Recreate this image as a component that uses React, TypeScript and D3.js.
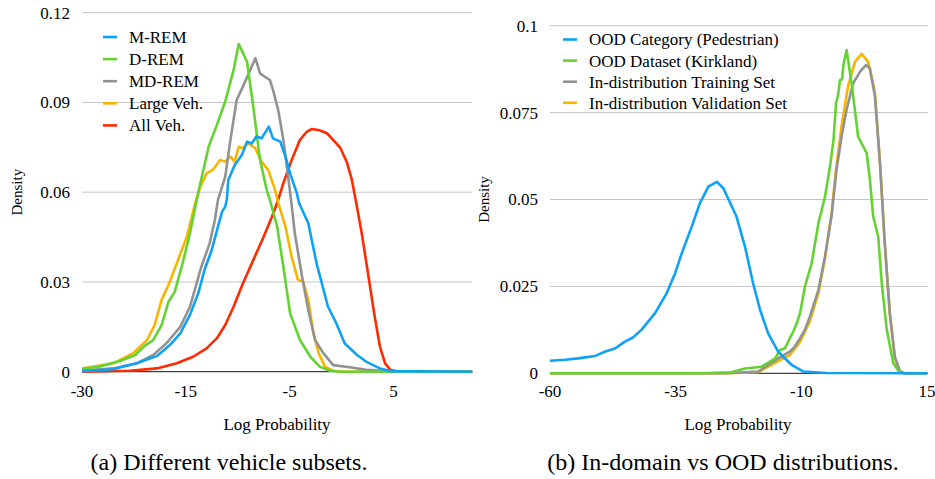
import React from "react";
import * as d3 from "d3";

// ---- panel (a): different vehicle subsets ----
const leftYTicks = [0, 0.03, 0.06, 0.09, 0.12];
const leftYLabels = ["0", "0.03", "0.06", "0.09", "0.12"];
const leftXTicks = [-30, -15, -5, 5];
const leftNames = ["M-REM", "D-REM", "MD-REM", "Large Veh.", "All Veh."];
const leftColors = ["#0DA2F5", "#63D332", "#929292", "#F8B500", "#FF2A00"];

const mRem: [number, number][] = [
  [-30, 0.0002], [-25.5, 0.0008], [-24, 0.0017], [-22.1, 0.0028], [-20.6, 0.0041], [-19.2, 0.0052],
  [-17.3, 0.0089], [-15.8, 0.0128], [-14.6, 0.019], [-13.8, 0.0262], [-13.2, 0.034], [-12.5, 0.0407],
  [-11.9, 0.0485], [-11.5, 0.0535], [-11.2, 0.0552], [-11.05, 0.0574], [-10.9, 0.0641], [-10.3, 0.069],
  [-9.6, 0.0724], [-9.1, 0.0769], [-8.65, 0.0763], [-8.2, 0.0786], [-7.7, 0.078], [-7.0, 0.0819],
  [-6.6, 0.078], [-5.9, 0.0769], [-5.4, 0.0719], [-4.95, 0.0663], [-4.3, 0.0596], [-4.1, 0.0565],
  [-3.2, 0.0496], [-2.4, 0.0362], [-1.3, 0.0217], [-0.5, 0.0162], [0.3, 0.0095], [1.5, 0.0056],
  [2.4, 0.0033], [3.7, 0.0011], [4.7, 0.0002], [12.6, 0],
];
const dRem: [number, number][] = [
  [-30, 0.001], [-27.4, 0.0017], [-24.5, 0.0036], [-22.3, 0.0056], [-20.9, 0.0087], [-19.7, 0.0106],
  [-18.5, 0.0156], [-17.5, 0.0234], [-16.6, 0.0267], [-15.4, 0.0368], [-14.6, 0.0463], [-13.95, 0.0574],
  [-13.6, 0.063], [-12.8, 0.0752], [-12.0, 0.0825], [-11.2, 0.0903], [-10.4, 0.1008], [-9.9, 0.1095],
  [-9.1, 0.1036], [-8.5, 0.0886], [-7.85, 0.0708], [-7.2, 0.0607], [-6.9, 0.0574], [-6.2, 0.0485],
  [-5.6, 0.0351], [-4.95, 0.0195], [-4.0, 0.0106], [-3.0, 0.005], [-2.1, 0.0017], [-1.1, 0.0003],
  [0, 0], [12.6, 0],
];
const mdRem: [number, number][] = [
  [-30, 0.0003], [-25.5, 0.0011], [-22.1, 0.0028], [-19.7, 0.0056], [-17.8, 0.0095], [-15.8, 0.015],
  [-14.6, 0.0217], [-13.5, 0.0351], [-12.7, 0.0429], [-12.2, 0.0507], [-11.9, 0.0574], [-11.2, 0.0652],
  [-10.7, 0.0775], [-10.1, 0.0908], [-9.5, 0.0953], [-8.8, 0.1008], [-8.3, 0.1048], [-7.85, 0.0997],
  [-7.4, 0.0986], [-6.9, 0.0975], [-6.6, 0.0942], [-6.1, 0.0875], [-5.6, 0.0775], [-5.1, 0.0641],
  [-4.8, 0.0557], [-4.5, 0.0463], [-3.8, 0.0318], [-3.2, 0.0206], [-2.55, 0.0106], [-1.75, 0.0062],
  [-0.8, 0.0022], [0.8, 0.0015], [2.4, 0.0006], [4.4, 0.0002], [5.5, 0], [12.6, 0],
];
const largeVeh: [number, number][] = [
  [-30, 0.0011], [-25.5, 0.0028], [-22.6, 0.0062], [-20.6, 0.0106], [-19.5, 0.0156], [-18.5, 0.024],
  [-17.5, 0.029], [-16.3, 0.0362], [-14.9, 0.0451], [-14.1, 0.0563], [-13.6, 0.0618], [-13.0, 0.0663],
  [-12.35, 0.0676], [-11.7, 0.0708], [-11.2, 0.0702], [-10.7, 0.0719], [-10.3, 0.0702], [-9.9, 0.0752],
  [-9.5, 0.0747], [-9.0, 0.0763], [-8.3, 0.0747], [-7.7, 0.0702], [-7.05, 0.0674], [-6.4, 0.0607],
  [-6.1, 0.0565], [-5.4, 0.0485], [-4.8, 0.0384], [-4.2, 0.0307], [-3.7, 0.0301], [-3.2, 0.024],
  [-2.7, 0.0128], [-2.2, 0.0062], [-1.6, 0.0017], [-0.8, 0.0003], [0, 0], [12.6, 0],
];
const allVeh: [number, number][] = [
  [-30, 0], [-23.1, 0.0003], [-19.2, 0.0011], [-16.3, 0.0028], [-14.3, 0.005], [-13.0, 0.0078],
  [-12.0, 0.0112], [-11.2, 0.0156], [-10.4, 0.0217], [-9.5, 0.0295], [-8.5, 0.0373], [-7.5, 0.0451],
  [-6.7, 0.0518], [-6.1, 0.0574], [-5.6, 0.063], [-4.8, 0.0708], [-4.0, 0.0775], [-3.35, 0.0802],
  [-2.9, 0.0811], [-2.2, 0.0808], [-1.4, 0.0797], [-0.8, 0.0775], [-0.1, 0.0747], [0.5, 0.0702],
  [1.0, 0.0641], [1.4, 0.0568], [1.95, 0.0463], [2.6, 0.0318], [3.2, 0.0184], [3.7, 0.0084],
  [4.2, 0.0028], [4.7, 0.0006], [5.6, 0], [12.6, 0],
];

// ---- panel (b): in-domain vs OOD ----
const rightYTicks = [0, 0.025, 0.05, 0.075, 0.1];
const rightYLabels = ["0", "0.025", "0.05", "0.075", "0.1"];
const rightXTicks = [-60, -35, -10, 15];
const rightNames = [
  "OOD Category (Pedestrian)",
  "OOD Dataset (Kirkland)",
  "In-distribution Training Set",
  "In-distribution Validation Set",
];
const rightColors = ["#0DA2F5", "#63D332", "#929292", "#F8B500"];

const pedestrian: [number, number][] = [
  [-60, 0.0036], [-57, 0.0039], [-54.4, 0.0043], [-51, 0.005], [-49.1, 0.0062], [-47, 0.0072],
  [-45.1, 0.0091], [-43.5, 0.0103], [-41.8, 0.0125], [-39.1, 0.0173], [-36.8, 0.023], [-35.1, 0.0288],
  [-33.8, 0.0345], [-31.8, 0.0422], [-30.2, 0.0489], [-28.5, 0.0537], [-26.8, 0.0551], [-25.5, 0.0532],
  [-22.9, 0.0451], [-21.2, 0.0364], [-19.6, 0.0259], [-18.2, 0.0182], [-16.6, 0.0115], [-14.6, 0.0062],
  [-11.9, 0.0024], [-9.6, 0.0005], [-5, 0.0001], [15, 0],
];
const kirkland: [number, number][] = [
  [-60, 0], [-30, 0], [-24, 0.0003], [-21.2, 0.0014], [-17.9, 0.0019], [-15.2, 0.0043],
  [-14.25, 0.0067], [-13.25, 0.0072], [-12.3, 0.0101], [-11.6, 0.012], [-10.9, 0.0144], [-10.25, 0.0173],
  [-9.3, 0.0249], [-7.95, 0.0316], [-6.6, 0.0432], [-5.3, 0.0508], [-4.3, 0.0594], [-3.6, 0.0671],
  [-3.1, 0.0777], [-2.7, 0.08], [-2.3, 0.0844], [-1.9, 0.0845], [-1.6, 0.089], [-1.0, 0.093],
  [0.0, 0.0834], [1.3, 0.0681], [3.0, 0.0633], [3.65, 0.0556], [4.3, 0.0451], [5.3, 0.0393],
  [6.0, 0.0259], [7.0, 0.0125], [8.3, 0.0029], [9.3, 0.0007], [10.5, 0], [15, 0],
];
const training: [number, number][] = [
  [-60, 0], [-25, 0], [-18.6, 0.0005], [-14.6, 0.0043], [-12.3, 0.0062], [-11.3, 0.0077],
  [-10.25, 0.0101], [-9.3, 0.0125], [-8.3, 0.0163], [-6.6, 0.024], [-5.3, 0.0336], [-4.0, 0.0451],
  [-3.0, 0.0585], [-2.0, 0.0681], [-1.0, 0.0758], [0.3, 0.0834], [1.7, 0.0868], [2.9, 0.0887],
  [3.65, 0.0877], [4.65, 0.0796], [5.65, 0.0604], [6.6, 0.0374], [7.6, 0.0173], [8.6, 0.0048],
  [9.6, 0.0007], [10.5, 0], [15, 0],
];
const validation: [number, number][] = [
  [-60, 0], [-25, 0], [-18.6, 0.0003], [-14.6, 0.0035], [-12.3, 0.0052], [-10.25, 0.009],
  [-8.3, 0.015], [-6.6, 0.023], [-5.3, 0.033], [-4.0, 0.046], [-3.0, 0.06], [-2.0, 0.071],
  [-1.0, 0.08], [-0.66, 0.0828], [0.67, 0.0896], [2.0, 0.0919], [3.3, 0.0896], [4.65, 0.0806],
  [5.65, 0.0604], [6.6, 0.0374], [7.6, 0.0173], [8.6, 0.0045], [9.4, 0.0007], [10.5, 0], [15, 0],
];

const leftSeries = [mRem, dRem, mdRem, largeVeh, allVeh];
const rightSeries = [pedestrian, kirkland, training, validation];

const FONT = "Liberation Serif, DejaVu Serif, serif";

type PanelProps = {
  x: d3.ScaleLinear<number, number>;
  y: d3.ScaleLinear<number, number>;
  right: number;
  xTicks: number[];
  yTicks: number[];
  yLabels: string[];
  series: [number, number][][];
  names: string[];
  colors: string[];
  legendX: number;
  legendY: number;
  legendStep: number;
  densityX: number;
  titleX: number;
  caption: string;
  captionX: number;
};

const Panel = (p: PanelProps) => {
  const x0 = p.x.range()[0];
  const line = d3
    .line<[number, number]>()
    .x((d) => p.x(d[0]))
    .y((d) => p.y(d[1]))
    .curve(d3.curveLinear);
  const yMid = (p.y(0) + p.y(p.yTicks[p.yTicks.length - 1])) / 2;

  return (
    <g style={{ fontFamily: FONT }}>
      {/* gridlines */}
      {p.yTicks.slice(1).map((t) => (
        <line key={t} x1={x0} x2={p.right} y1={p.y(t)} y2={p.y(t)} stroke="#c4c4c4" strokeWidth={1} />
      ))}
      <line x1={x0} x2={p.right} y1={p.y(0)} y2={p.y(0)} stroke="#111" strokeWidth={1} />
      {/* y tick labels */}
      {p.yTicks.map((t, i) => (
        <text key={t} x={x0 - 12} y={p.y(t)} dy="0.35em" textAnchor="end" fontSize={17}>
          {p.yLabels[i]}
        </text>
      ))}
      {/* x tick labels */}
      {p.xTicks.map((t) => (
        <text key={t} x={p.x(t)} y={397} textAnchor="middle" fontSize={17}>
          {t}
        </text>
      ))}
      {/* series, first one on top */}
      {p.series
        .map((s, i) => (
          <path
            key={p.names[i]}
            d={line(s) || ""}
            fill="none"
            stroke={p.colors[i]}
            strokeWidth={2.6}
            strokeLinejoin="round"
          />
        ))
        .reverse()}
      {/* legend */}
      {p.names.map((n, i) => {
        const ly = p.legendY + i * p.legendStep;
        return (
          <g key={n}>
            <line x1={p.legendX} x2={p.legendX + 14} y1={ly} y2={ly} stroke={p.colors[i]} strokeWidth={2.6} />
            <text x={p.legendX + 26} y={ly} dy="0.35em" fontSize={17}>
              {n}
            </text>
          </g>
        );
      })}
      {/* axis titles */}
      <text transform={`translate(${p.densityX},${yMid}) rotate(-90)`} textAnchor="middle" fontSize={15}>
        Density
      </text>
      <text x={p.titleX} y={430} textAnchor="middle" fontSize={17}>
        Log Probability
      </text>
      <text x={p.captionX} y={470} textAnchor="middle" fontSize={24}>
        {p.caption}
      </text>
    </g>
  );
};

const App = () => {
  const step = 103.8;
  // category-like axis in the source: labelled ticks are evenly spaced
  const xLeft = d3
    .scaleLinear()
    .domain([-30, -15, -5, 5, 15])
    .range([82, 82 + step, 82 + 2 * step, 82 + 3 * step, 82 + 4 * step]);
  const yLeft = d3.scaleLinear().domain([0, 0.12]).range([371.7, 12.7]);
  const xRight = d3.scaleLinear().domain([-60, 15]).range([550, 927]);
  const yRight = d3.scaleLinear().domain([0, 0.1]).range([373.3, 25.7]);

  return (
    <svg width={935} height={479} style={{ position: "absolute", left: 0, top: 0, background: "white" }}>
      <Panel
        x={xLeft}
        y={yLeft}
        right={472}
        xTicks={leftXTicks}
        yTicks={leftYTicks}
        yLabels={leftYLabels}
        series={leftSeries}
        names={leftNames}
        colors={leftColors}
        legendX={103}
        legendY={37}
        legendStep={22.1}
        densityX={22}
        titleX={277}
        caption="(a) Different vehicle subsets."
        captionX={229}
      />
      <Panel
        x={xRight}
        y={yRight}
        right={928}
        xTicks={rightXTicks}
        yTicks={rightYTicks}
        yLabels={rightYLabels}
        series={rightSeries}
        names={rightNames}
        colors={rightColors}
        legendX={563}
        legendY={39.5}
        legendStep={21.1}
        densityX={489}
        titleX={738}
        caption="(b) In-domain vs OOD distributions."
        captionX={723}
      />
    </svg>
  );
};

export default App;
